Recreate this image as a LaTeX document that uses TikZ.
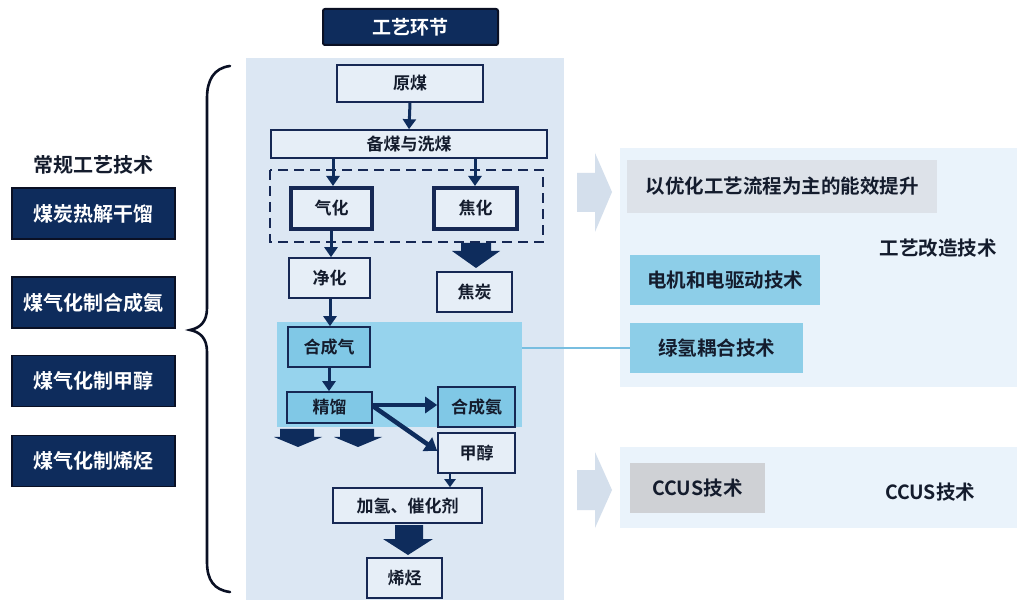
\documentclass[tikz,border=0pt]{standalone}
\usepackage{fontspec}
\setmainfont{Noto Sans CJK SC}
\newfontfamily\cjkb{Noto Sans CJK SC}[BoldFont={* Bold}]
\usetikzlibrary{arrows.meta}
\definecolor{navy}{RGB}{14,44,92}
\definecolor{navyline}{RGB}{22,40,84}
\definecolor{darkline}{RGB}{10,16,36}
\definecolor{panel}{RGB}{220,231,243}
\definecolor{flowfill}{RGB}{230,238,247}
\definecolor{hlfill}{RGB}{150,211,237}
\definecolor{hlbox}{RGB}{128,200,230}
\definecolor{rpanel}{RGB}{234,243,251}
\definecolor{chev}{RGB}{212,223,236}
\definecolor{greybox}{RGB}{221,226,233}
\definecolor{cyanbox}{RGB}{141,206,232}
\definecolor{ccusgrey}{RGB}{207,209,213}
\definecolor{conn}{RGB}{120,190,224}
\definecolor{txt}{RGB}{20,28,45}
\tikzset{
  leftbox/.style={draw=darkline, line width=1.6pt, fill=navy, text=white,
    minimum width=163pt, minimum height=51pt, inner sep=0pt, font=\cjkb\bfseries\fontsize{20}{20}\selectfont},
  flow/.style={draw=navyline, line width=1.6pt, fill=flowfill, text=txt,
    inner sep=0pt, font=\cjkb\bfseries\fontsize{17}{17}\selectfont},
  flowhl/.style={flow, fill=hlbox},
  thick box/.style={line width=4pt},
  arr/.style={draw=navy, line width=3pt, -{Triangle[width=13pt,length=10pt]}},
  fat/.style={fill=navy, draw=none},
  rbox/.style={inner sep=0pt, text=txt, font=\cjkb\bfseries\fontsize{19.5}{19.5}\selectfont},
  chevron/.style={fill=chev, draw=none},
}
\begin{document}
\begin{tikzpicture}[x=1pt,y=-1pt]
\useasboundingbox (0,0) rectangle (1023,601);
\fill[white] (0,0) rectangle (1023,601);

% main panel
\fill[panel] (246,58) rectangle (564,600);
% highlight region
\node[fill=hlfill, minimum width=245pt, minimum height=105pt, inner sep=0pt] (hl) at (399.5,374.5) {};

% title
\node[draw=darkline, line width=2pt, fill=navy, rounded corners=2pt, text=white,
  minimum width=175pt, minimum height=36pt, inner sep=0pt,
  font=\cjkb\bfseries\fontsize{19}{19}\selectfont] (title) at (410.5,27) {工艺环节};

% dashed frame
\draw[navyline, line width=2pt, dash pattern=on 10pt off 6pt] (270,170) rectangle (543,242);

% flow boxes
\node[flow, minimum width=146pt, minimum height=37pt] (ym) at (410,83.5) {原煤};
\node[flow, minimum width=276pt, minimum height=28pt] (bm) at (409,144) {备煤与洗煤};
\node[flow, thick box, minimum width=81pt, minimum height=41pt] (qh) at (331.5,208.5) {气化};
\node[flow, thick box, minimum width=83pt, minimum height=41pt] (jh) at (475.5,208.5) {焦化};
\node[flow, minimum width=81pt, minimum height=40pt] (jinghua) at (329.5,278) {净化};
\node[flow, minimum width=75pt, minimum height=40pt] (jt) at (474.5,292) {焦炭};
\node[flowhl, minimum width=82pt, minimum height=40pt] (hcq) at (329,347) {合成气};
\node[flowhl, minimum width=85pt, minimum height=31pt] (jl) at (329.5,407.5) {精馏};
\node[flowhl, minimum width=77pt, minimum height=40pt] (hca) at (476.5,407) {合成氨};
\node[flow, minimum width=77pt, minimum height=40pt] (jc) at (476.5,453) {甲醇};
\node[flow, minimum width=149pt, minimum height=35pt] (jq) at (407.5,505.5) {加氢、催化剂};
\node[flow, minimum width=75pt, minimum height=40pt] (xt) at (404.5,578) {烯烃};

% thin arrows
\draw[arr] (ym.south) -- (bm.north);
\draw[arr] (bm.south -| 333,0) -- (qh.north -| 333,0);
\draw[arr] (bm.south -| 475,0) -- (jh.north -| 475,0);
\draw[arr] (qh.south -| 331,0) -- (jinghua.north -| 331,0);
\draw[arr] (jinghua.south -| 330,0) -- (hcq.north -| 330,0);
\draw[arr] (hcq.south -| 329,0) -- (jl.north -| 329,0);
\draw[arr, line width=4.5pt, -{Triangle[width=16pt,length=12pt]}] (jl.east |- 0,405) -- (hca.west |- 0,405);
\draw[arr, line width=4.5pt, -{Triangle[width=16pt,length=12pt]}] (jl.east |- 0,406) -- (jc.west |- 0,451);
\draw[arr, line width=2.5pt, -{Triangle[width=11pt,length=8pt]}] (jc.south -| 450,0) -- (jq.north -| 450,0);

% fat arrows
\fill[fat] (461,243) -- (491,243) -- (491,251) -- (500,251) -- (476,268) -- (452,251) -- (461,251) -- cycle;
\fill[fat] (280,429) -- (314,429) -- (314,437) -- (322,437) -- (298,447) -- (274,437) -- (280,437) -- cycle;
\fill[fat] (340,429) -- (374,429) -- (374,437) -- (382,437) -- (358,447) -- (334,437) -- (340,437) -- cycle;
\fill[fat] (395,525) -- (423,525) -- (423,539) -- (433,539) -- (408,555) -- (383,539) -- (395,539) -- cycle;

% left side
\node[font=\cjkb\bfseries\fontsize{20}{20}\selectfont, text=txt] (cg) at (93,165) {常规工艺技术};
\node[leftbox] (l1) at (93.5,213.5) {煤炭热解干馏};
\node[leftbox] (l2) at (93.5,302.5) {煤气化制合成氨};
\node[leftbox] (l3) at (93.5,381) {煤气化制甲醇};
\node[leftbox] (l4) at (93.5,461) {煤气化制烯烃};

% brace
\draw[darkline, line width=2.6pt, line cap=round]
  (230,66) .. controls (214,68) and (207,80) .. (207,98)
  -- (207,308) .. controls (207,322) and (200,328) .. (190,330)
  .. controls (200,332) and (207,338) .. (207,352)
  -- (207,562) .. controls (207,580) and (214,590) .. (230,592);

% right: chevrons
\fill[chevron] (577,173) -- (595,173) -- (595,153) -- (612,192) -- (595,232) -- (595,212) -- (577,212) -- cycle;
\fill[chevron] (577,470) -- (595,470) -- (595,452) -- (612,490) -- (595,528) -- (595,510) -- (577,510) -- cycle;

% right panels
\node[fill=rpanel, minimum width=397pt, minimum height=239pt, inner sep=0pt] (rp1) at (818.5,267.5) {};
\node[fill=rpanel, minimum width=397pt, minimum height=81pt, inner sep=0pt] (rp2) at (818.5,487.5) {};

\node[rbox, fill=greybox, minimum width=310pt, minimum height=53pt] (yh) at (782,186.5) {以优化工艺流程为主的能效提升};
\node[rbox] (gygz) at (938,248) {工艺改造技术};
\node[rbox, fill=cyanbox, minimum width=190pt, minimum height=50pt] (dj) at (725,280) {电机和电驱动技术};
\node[rbox, fill=cyanbox, minimum width=173pt, minimum height=50pt] (lq) at (716.5,348) {绿氢耦合技术};
\node[rbox, fill=ccusgrey, minimum width=135pt, minimum height=50pt] (ccus1) at (697.5,488) {CCUS技术};
\node[rbox] (ccus2) at (930,492) {CCUS技术};

% connector
\draw[conn, line width=2pt] (lq.west -| hl.east) -- (lq.west);
\end{tikzpicture}
\end{document}
